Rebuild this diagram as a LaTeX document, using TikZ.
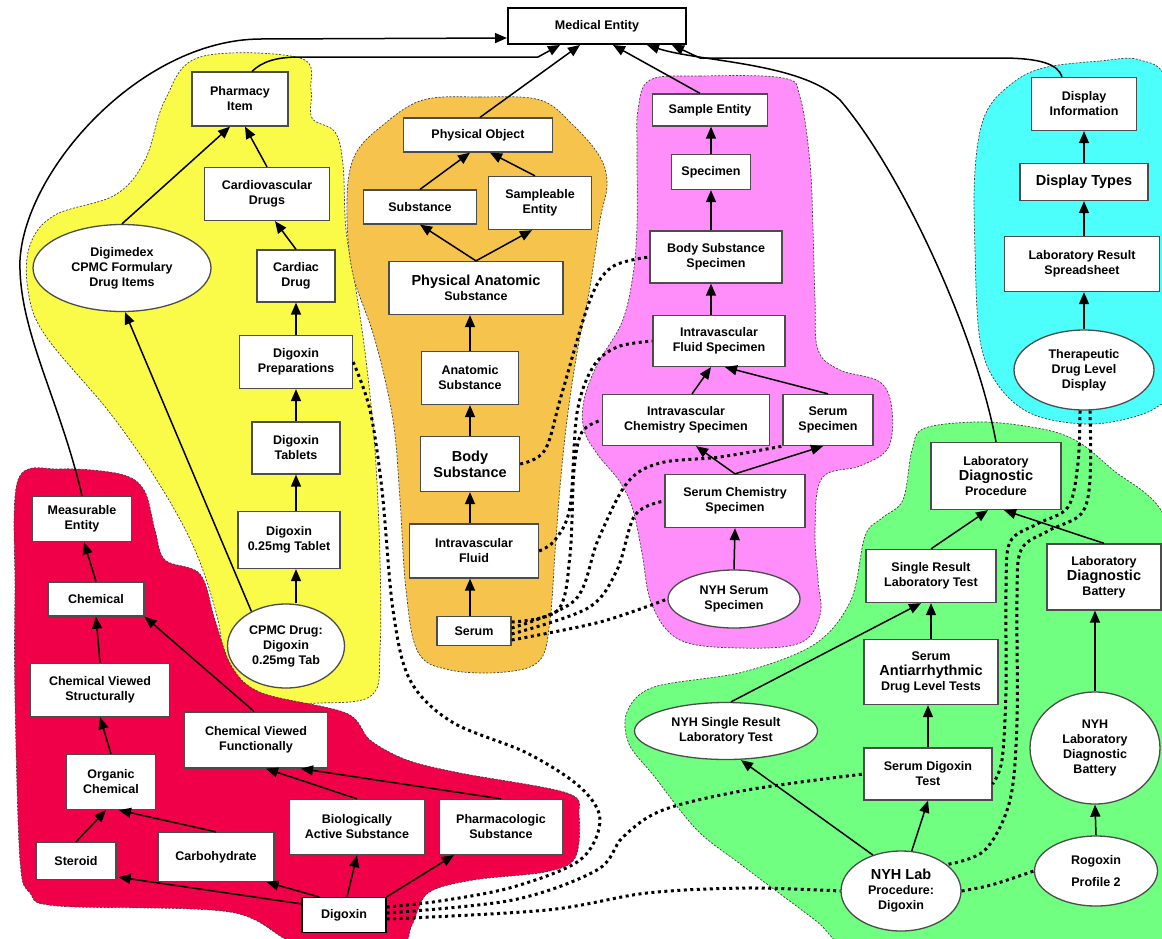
\documentclass[tikz,border=0pt]{standalone}
\usepackage{fontspec}
\setmainfont{Liberation Sans}
\usetikzlibrary{shapes.geometric,arrows.meta,calc}
\newcommand\nf{\fontsize{12.5}{15}\selectfont\bfseries}
\newcommand\bgt{\fontsize{14.5}{16}\selectfont\bfseries}
\definecolor{cyel}{RGB}{250,250,72}
\definecolor{corg}{RGB}{246,196,76}
\definecolor{cpnk}{RGB}{255,142,250}
\definecolor{ccyn}{RGB}{77,255,250}
\definecolor{cgrn}{RGB}{112,255,128}
\definecolor{cred}{RGB}{240,0,72}
\tikzset{
  box/.style={draw=black!70, line width=1.3pt, fill=white, align=center, font=\nf, inner sep=0pt},
  ell/.style={box, ellipse},
  isa/.style={-{Triangle[length=12pt,width=10pt]}, line width=1.5pt},
  inst/.style={line width=3pt, dash pattern=on 3pt off 3.5pt},
  region/.style={draw=black!75, line width=0.7pt, dash pattern=on 2pt off 1.6pt},
}
\begin{document}
\begin{tikzpicture}[x=1pt,y=-1pt]
\useasboundingbox (0,0) rectangle (1162,938);
\clip (0,0) rectangle (1162,938);
\fill[white] (0,0) rectangle (1162,938);

% ---------- regions ----------
\path[region, fill=cyel] plot[smooth cycle, tension=0.6] coordinates {
 (200,57) (300,58) (311,90) (312,118) (335,132) (343,165) (346,230) (356,290)
 (366,360) (375,450) (380,560) (380,650) (372,695) (320,703) (250,700) (226,675)
 (218,620) (195,550) (158,482) (110,413) (45,335) (28,290) (30,245) (55,215)
 (115,195) (145,160) (165,100)};
\path[region, fill=corg] plot[smooth cycle, tension=0.6] coordinates {
 (423,100) (480,97) (540,100) (573,125) (600,157) (607,185) (600,220) (590,287)
 (577,353) (567,420) (560,487) (555,553) (550,620) (540,660) (505,672) (450,670)
 (418,652) (406,590) (400,500) (393,420) (375,340) (352,270) (347,200) (355,155) (383,125)};
\path[region, fill=cpnk] plot[smooth cycle, tension=0.6] coordinates {
 (650,80) (700,76) (783,78) (800,97) (810,163) (813,230) (815,300) (818,350)
 (840,370) (880,382) (892,410) (888,448) (860,466) (822,478) (815,530) (818,580)
 (820,615) (800,643) (740,648) (680,640) (652,605) (642,553) (633,510) (620,482)
 (598,455) (584,430) (584,400) (597,365) (622,322) (633,275) (637,225) (637,150) (638,110)};
\path[region, fill=ccyn] plot[smooth cycle, tension=0.6] coordinates {
 (1043,68) (1100,61) (1140,60) (1168,85) (1182,200) (1182,380) (1160,405)
 (1130,418) (1085,424) (1032,414) (998,385) (980,340) (975,250) (975,170) (985,115) (1010,85)};
\path[region, fill=cgrn] plot[smooth cycle, tension=0.55] coordinates {
 (925,428) (985,422) (1047,430) (1080,443) (1113,470) (1162,512) (1185,600)
 (1185,945) (1100,950) (950,950) (851,948) (815,920) (743,866) (697,830)
 (654,776) (629,744) (627,712) (654,687) (743,672) (815,644) (851,600)
 (865,536) (882,518) (903,500) (912,450)};
\path[region, fill=cred] plot[smooth cycle, tension=0.55] coordinates {
 (18,480) (60,469) (120,474) (144,490) (155,530) (165,560) (200,574) (215,620)
 (232,667) (262,693) (346,713) (370,740) (407,760) (460,773) (567,793) (579,815)
 (575,858) (545,872) (473,880) (428,893) (412,925) (395,950) (300,945) (230,912)
 (58,906) (30,893) (20,860) (15,700) (15,593)};

% ---------- nodes ----------
\node[box, draw=black, line width=2pt, minimum width=178, minimum height=36] (me) at (597,26) {Medical Entity};

\node[box, minimum width=96, minimum height=54] (ph) at (240,99) {Pharmacy\\Item};
\node[box, minimum width=125, minimum height=53] (cvd) at (267,194) {Cardiovascular\\Drugs};
\node[ell, minimum width=178, minimum height=87] (dig) at (122,268) {Digimedex\\CPMC Formulary\\Drug Items};
\node[box, minimum width=78, minimum height=52] (cd) at (296,276) {Cardiac\\Drug};
\node[box, minimum width=113, minimum height=53] (dp) at (296,362) {Digoxin\\Preparations};
\node[box, minimum width=88, minimum height=52] (dt) at (296,448) {Digoxin\\Tablets};
\node[box, minimum width=102, minimum height=57] (dtab) at (289,540) {Digoxin\\0.25mg Tablet};
\node[ell, minimum width=117, minimum height=84] (cpmc) at (286,646) {CPMC Drug:\\Digoxin\\0.25mg Tab};

\node[box, minimum width=149, minimum height=34] (po) at (478,135) {Physical Object};
\node[box, minimum width=113, minimum height=34] (sub) at (420,207) {Substance};
\node[box, minimum width=103, minimum height=53] (se) at (540,203) {Sampleable\\Entity};
\node[box, minimum width=174, minimum height=53] (pas) at (476,288) {{\bgt Physical Anatomic}\\Substance};
\node[box, minimum width=97, minimum height=53] (as) at (470,378) {Anatomic\\Substance};
\node[box, minimum width=99, minimum height=55, font=\bgt] (bs) at (470,464) {Body\\Substance};
\node[box, minimum width=129, minimum height=54] (ivf) at (474,551) {Intravascular\\Fluid};
\node[box, minimum width=74, minimum height=29] (ser) at (474,631) {Serum};

\node[box, minimum width=115, minimum height=32] (sme) at (710,110) {Sample Entity};
\node[box, minimum width=79, minimum height=35] (spec) at (711,172) {Specimen};
\node[box, minimum width=132, minimum height=52] (bss) at (716,257) {Body Substance\\Specimen};
\node[box, minimum width=132, minimum height=51] (ifs) at (719,341) {Intravascular\\Fluid Specimen};
\node[box, minimum width=167, minimum height=51] (ics) at (686,420) {Intravascular\\Chemistry Specimen};
\node[box, minimum width=90, minimum height=51] (ss) at (828,420) {Serum\\Specimen};
\node[box, minimum width=140, minimum height=53] (scs) at (735,501) {Serum Chemistry\\Specimen};
\node[ell, minimum width=132, minimum height=58] (nss) at (734,599) {NYH Serum\\Specimen};

\node[box, minimum width=105, minimum height=53] (di) at (1084,104) {Display\\Information};
\node[box, minimum width=128, minimum height=37, font=\bgt] (dty) at (1084,182) {Display Types};
\node[box, minimum width=155, minimum height=55] (lrs) at (1082,264) {Laboratory Result\\Spreadsheet};
\node[ell, minimum width=140, minimum height=80] (tdl) at (1084,370) {Therapeutic\\Drug Level\\Display};

\node[box, minimum width=130, minimum height=67] (ldp) at (996,476) {Laboratory\\{\bgt Diagnostic}\\Procedure};
\node[box, minimum width=130, minimum height=53] (srlt) at (931,576) {Single Result\\Laboratory Test};
\node[box, minimum width=114, minimum height=66] (ldb) at (1104,577) {Laboratory\\{\bgt Diagnostic}\\Battery};
\node[box, minimum width=134, minimum height=65] (sad) at (931,672) {Serum\\{\bgt Antiarrhythmic}\\Drug Level Tests};
\node[ell, minimum width=183, minimum height=57] (nsr) at (726,731) {NYH Single Result\\Laboratory Test};
\node[ell, minimum width=130, minimum height=112] (nldb) at (1095,748) {NYH\\Laboratory\\Diagnostic\\Battery};
\node[box, minimum width=128, minimum height=52] (sdt) at (928,774) {Serum Digoxin\\Test};
\node[ell, minimum width=120, minimum height=80] (nlp) at (901,891) {{\bgt NYH Lab}\\Procedure:\\Digoxin};
\node[ell, minimum width=123, minimum height=70] (rp) at (1096,871) {Rogoxin\\[7pt]Profile 2};

\node[box, minimum width=99, minimum height=45] (mse) at (82,519) {Measurable\\Entity};
\node[box, minimum width=96, minimum height=34] (chem) at (96,599) {Chemical};
\node[box, minimum width=139, minimum height=53] (cvs) at (100,690) {Chemical Viewed\\Structurally};
\node[box, minimum width=143, minimum height=56] (cvf) at (256,740) {Chemical Viewed\\Functionally};
\node[box, minimum width=89, minimum height=55] (oc) at (111,782) {Organic\\Chemical};
\node[box, minimum width=80, minimum height=37] (ster) at (76,861) {Steroid};
\node[box, minimum width=116, minimum height=49] (carb) at (216,857) {Carbohydrate};
\node[box, minimum width=135, minimum height=55] (bas) at (357,827) {Biologically\\Active Substance};
\node[box, minimum width=123, minimum height=55] (phs) at (501,827) {Pharmacologic\\Substance};
\node[box, draw=black, minimum width=84, minimum height=35] (digx) at (344,915) {Digoxin};

% ---------- links to Medical Entity ----------
\draw[isa] (mse.north) .. controls (60,400) and (18,330) .. (20,260)
  .. controls (25,170) and (140,40) .. (260,39) -- ($(me.west)+(0,12)$);
\draw[isa] ($(ph.north)+(12,0)$) .. controls (262,62) and (275,57) .. (300,57) -- (538,57) -- ($(me.south)+(-37,0)$);
\draw[isa] ($(po.north)+(2,0)$) -- ($(me.south)+(-17,0)$);
\draw[isa] ($(sme.north)+(-10,0)$) -- ($(me.south)+(16,0)$);
\draw[isa] (ldp.north) .. controls (975,330) and (900,170) .. (840,100)
  .. controls (800,62) and (700,62) .. ($(me.south)+(50,0)$);
\draw[isa] ($(di.north)+(-22,0)$) .. controls (1058,64) and (1040,58) .. (1000,58) -- (700,58) -- ($(me.south)+(75,0)$);

% ---------- yellow ----------
\draw[isa] (cvd.north) -- ($(ph.south)+(5,0)$);
\draw[isa] (dig.north) -- ($(ph.south)+(-10,0)$);
\draw[isa] (cd.north) -- ($(cvd.south)+(8,0)$);
\draw[isa] (dp.north) -- (cd.south);
\draw[isa] (dt.north) -- (dp.south);
\draw[isa] (dtab.north -| dt.south) -- (dt.south);
\draw[isa] (cpmc.north -| dt.south) -- (dtab.south -| dt.south);
\draw[isa] (cpmc.135) -- ($(dig.south)+(3,0)$);

% ---------- orange ----------
\draw[isa] (sub.north) -- ($(po.south)+(-8,0)$);
\draw[isa] ($(se.north)+(-5,0)$) -- ($(po.south)+(12,0)$);
\draw[isa] (pas.north) -- (sub.south);
\draw[isa] (pas.north) -- ($(se.south)+(-8,0)$);
\draw[isa] (as.north) -- (as.north |- pas.south);
\draw[isa] (bs.north) -- (bs.north |- as.south);
\draw[isa] (bs.south |- ivf.north) -- (bs.south);
\draw[isa] (bs.south |- ser.north) -- (bs.south |- ivf.south);

% ---------- pink ----------
\draw[isa] (spec.north) -- (spec.north |- sme.south);
\draw[isa] (spec.south |- bss.north) -- (spec.south);
\draw[isa] (spec.south |- ifs.north) -- (spec.south |- bss.south);
\draw[isa] ($(ics.north)+(6,0)$) -- ($(ifs.south)+(-8,0)$);
\draw[isa] (ss.north) -- ($(ifs.south)+(6,0)$);
\draw[isa] (scs.north) -- ($(ics.south)+(10,0)$);
\draw[isa] (scs.north) -- ($(ss.south)+(-5,0)$);
\draw[isa] (nss.north) -- (scs.south);

% ---------- cyan ----------
\draw[isa] (dty.north) -- (di.south);
\draw[isa] (dty.south |- lrs.north) -- (dty.south);
\draw[isa] (tdl.north) -- (tdl.north |- lrs.south);

% ---------- green ----------
\draw[isa] (srlt.north) -- ($(ldp.south)+(-8,0)$);
\draw[isa] (ldb.north) -- ($(ldp.south)+(8,0)$);
\draw[isa] (sad.north) -- (srlt.south);
\draw[isa] ($(nsr.north)+(5,0)$) -- ($(srlt.south)+(-10,0)$);
\draw[isa] (sdt.north) -- (sdt.north |- sad.south);
\draw[isa] (nlp.128) -- ($(nsr.south)+(15,0)$);
\draw[isa] (nlp.75) -- (sdt.south);
\draw[isa] (nldb.north) -- (nldb.north |- ldb.south);
\draw[isa] (rp.north) -- (nldb.south);

% ---------- red ----------
\draw[isa] (chem.north) -- ($(mse.south)+(2,0)$);
\draw[isa] (cvs.north) -- (chem.south);
\draw[isa] ($(cvf.north)+(-2,0)$) -- (chem.south east);
\draw[isa] (oc.north) -- (cvs.south);
\draw[isa] (ster.north) -- ($(oc.south)+(-5,0)$);
\draw[isa] (carb.north) -- ($(oc.south)+(8,0)$);
\draw[isa] (bas.north) -- ($(cvf.south)+(10,0)$);
\draw[isa] (phs.north) -- ($(cvf.south)+(45,0)$);
\draw[isa] ($(digx.north west)+(0,7)$) -- ($(ster.south east)+(2,-3)$);
\draw[isa] ($(digx.north)+(-25,0)$) -- ($(carb.south east)+(-8,0)$);
\draw[isa] ($(digx.north)+(3,0)$) -- (bas.south);
\draw[isa] (digx.north east) -- ($(phs.south west)+(15,0)$);

% ---------- instance (dotted) links ----------
\coordinate (dx1) at ($(digx.east)+(0,-8)$);
\coordinate (dx2) at ($(digx.east)+(0,-2)$);
\coordinate (dx3) at ($(digx.east)+(0,4)$);
\draw[inst] plot[smooth, tension=0.55] coordinates {(dx1) (440,901) (513,887) (580,860) (600,820) (580,787) (527,753) (452,722) (410,680) (393,610) (382,490) (370,410) (dp.east)};
\draw[inst] plot[smooth, tension=0.55] coordinates {(dx2) (513,900) (597,870) (623,837) (663,810) (747,790) (sdt.west)};
\draw[inst] plot[smooth, tension=0.55] coordinates {(dx3) (547,910) (647,893) (747,888) (nlp.west)};

\draw[inst] plot[smooth, tension=0.55] coordinates {(bs.east) (545,450) (562,393) (590,300) (612,267) (bss.west)};
\draw[inst] plot[smooth, tension=0.55] coordinates {(ivf.east) (555,540) (570,507) (577,413) (593,367) (617,347) (ifs.west)};
\coordinate (s1) at ($(ser.east)+(0,-9)$);
\coordinate (s2) at ($(ser.east)+(0,-3)$);
\coordinate (s3) at ($(ser.east)+(0,3)$);
\coordinate (s4) at ($(ser.east)+(0,9)$);
\draw[inst] plot[smooth, tension=0.55] coordinates {(s1) (558,610) (570,555) (574,470) (582,432) (ics.west)};
\draw[inst] plot[smooth, tension=0.55] coordinates {(s2) (575,600) (598,540) (627,483) (660,463) (720,457) (ss.south west)};
\draw[inst] plot[smooth, tension=0.55] coordinates {(s3) (588,608) (617,570) (635,515) (scs.west)};
\draw[inst] plot[smooth, tension=0.55] coordinates {(s4) (600,622) (nss.west)};

\coordinate (t1) at ($(tdl.south)+(-4,0)$);
\coordinate (t2) at ($(tdl.south)+(6,0)$);
\coordinate (sdte) at ($(sdt.east)+(0,10)$);
\draw[inst] plot[smooth, tension=0.55] coordinates {(t1) (1078,463) (1068,507) (1037,524) (1010,542) (1006,590) (1006,690) (1002,760) (sdte)};
\draw[inst] plot[smooth, tension=0.55] coordinates {(t2) (1090,480) (1081,514) (1048,531) (1021,550) (1017,600) (1017,720) (1010,800) (985,850) (nlp.30)};
\draw[inst] (nlp.east) .. controls (990,886) .. (rp.west);
\end{tikzpicture}
\end{document}
